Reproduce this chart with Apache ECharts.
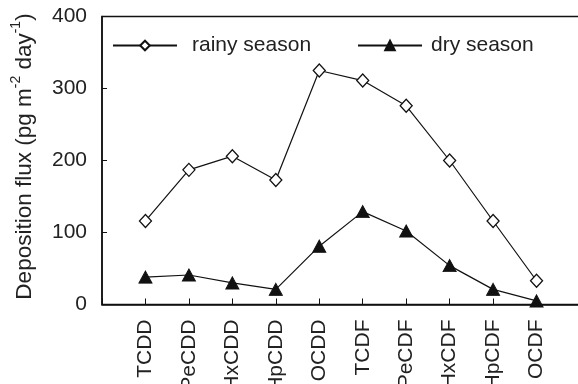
<!DOCTYPE html>
<html>
<head>
<meta charset="utf-8">
<script src="https://cdn.jsdelivr.net/npm/echarts@6/dist/echarts.min.js"></script>
<style>html,body{margin:0;padding:0;background:#fff;}#c{width:578px;height:384px;}</style>
</head>
<body>
<div id="c"></div>
<script>
var categories = ['TCDD','PeCDD','HxCDD','HpCDD','OCDD','TCDF','PeCDF','HxCDF','HpCDF','OCDF'];
var rainySeason = [116, 187, 206, 173, 325, 311, 276, 200, 116, 33];
var drySeason = [38, 41, 30, 21, 81, 129, 102, 54, 21, 5];
var yTicks = [0, 100, 200, 300, 400];

var padCats = [''].concat(categories).concat(['']);
var padRainy = [null].concat(rainySeason).concat([null]);
var padDry = [null].concat(drySeason).concat([null]);

var FONT = '"Liberation Sans", Arial, sans-serif';
var TXT = '#222';
var chart = echarts.init(document.getElementById('c'), null, {renderer: 'canvas'});
chart.setOption({
  animation: false,
  backgroundColor: '#fff',
  textStyle: {fontFamily: FONT},
  grid: {left: 102, right: -2, top: 16.5, bottom: 79.5, containLabel: false, outerBoundsMode: 'none',
         show: true, borderColor: '#111', borderWidth: 1.5, backgroundColor: 'transparent'},
  legend: [{
    left: 107, top: 30, itemWidth: 64, itemHeight: 12, itemGap: 10,
    data: ['rainy season'],
    textStyle: {fontSize: 21, color: TXT, fontFamily: FONT, padding: [0, 0, 0, 10]}
  }, {
    left: 352, top: 30, itemWidth: 64, itemHeight: 12,
    data: ['dry season'],
    textStyle: {fontSize: 21, color: TXT, fontFamily: FONT, padding: [0, 0, 0, 4]}
  }],
  xAxis: {
    type: 'category',
    data: padCats,
    boundaryGap: false,
    axisLine: {lineStyle: {color: '#111', width: 1.5}},
    axisTick: {inside: true, length: 6, lineStyle: {color: '#111', width: 1}},
    axisLabel: {rotate: 90, margin: 15, fontSize: 21, color: TXT, fontFamily: FONT, interval: 0, hideOverlap: false},
    splitLine: {show: false}
  },
  yAxis: {
    type: 'value',
    min: yTicks[0], max: yTicks[yTicks.length - 1], interval: 100,
    name: '{a|Deposition flux (pg m}{s|-2}{a| day}{s|-1}{a|)}',
    nameLocation: 'middle',
    nameGap: 66,
    nameTextStyle: {
      padding: [0, 0, 0, 8],
      rich: {
        a: {fontSize: 22.5, color: TXT, fontFamily: FONT, lineHeight: 27, verticalAlign: 'bottom'},
        s: {fontSize: 14, color: TXT, fontFamily: FONT, lineHeight: 27, verticalAlign: 'top'}
      }
    },
    axisLine: {show: true, lineStyle: {color: '#111', width: 1.5}},
    axisTick: {show: true, inside: true, length: 5, lineStyle: {color: '#111', width: 1}},
    axisLabel: {margin: 15, fontSize: 21, color: TXT, fontFamily: FONT},
    splitLine: {show: false}
  },
  series: [{
    name: 'rainy season',
    type: 'line',
    data: padRainy,
    symbol: 'diamond',
    symbolSize: [12, 13],
    showAllSymbol: true,
    lineStyle: {color: '#111', width: 1.2},
    itemStyle: {color: '#fff', borderColor: '#111', borderWidth: 1.3}
  }, {
    name: 'dry season',
    type: 'line',
    data: padDry,
    symbol: 'triangle',
    symbolSize: [13, 12],
    showAllSymbol: true,
    lineStyle: {color: '#111', width: 1.2},
    itemStyle: {color: '#111', borderColor: '#111', borderWidth: 1}
  }]
});
</script>
</body>
</html>
